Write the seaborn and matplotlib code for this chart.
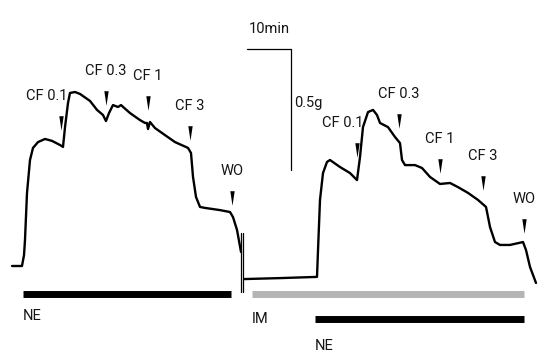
import numpy as np
import pandas as pd
import seaborn as sns
import matplotlib
matplotlib.use("Agg")
import matplotlib.pyplot as plt
from matplotlib.path import Path

# ---- isometric tension recordings (time in min, tension in g) ----
trace1_time = [0, 2.27, 2.73, 2.95, 3.41, 4.09, 4.77, 5.91, 7.5, 9.09, 10.91, 11.59,
               12.05, 12.73, 13.18, 14.32, 15.45, 17.73, 19.32, 20.68, 21.36, 22.05,
               22.95, 24.09, 24.77, 26.82, 29.09, 30.23, 30.68, 30.91, 31.36, 32.5,
               34.77, 37.05, 40.0, 40.68, 41.14, 41.82, 42.73, 43.86, 47.27, 49.55,
               50.23, 51.14, 52.05]
trace1_tension = [0, 0, 0.045, 0.107, 0.302, 0.438, 0.488, 0.512, 0.525, 0.517, 0.5, 0.492,
                  0.574, 0.674, 0.715, 0.719, 0.711, 0.682, 0.645, 0.624, 0.599, 0.632,
                  0.665, 0.657, 0.665, 0.632, 0.603, 0.591, 0.591, 0.566, 0.595, 0.57,
                  0.541, 0.512, 0.488, 0.467, 0.368, 0.285, 0.244, 0.24, 0.231, 0.223,
                  0.202, 0.149, 0.058]

trace2_time = [52.73, 60.91, 69.32, 69.55, 70.0, 70.68, 71.59, 72.27, 74.55, 76.82, 78.41,
               79.09, 79.77, 80.91, 82.05, 82.95, 83.64, 85.45, 87.05, 88.18, 88.64,
               89.32, 91.59, 93.18, 95.0, 97.27, 99.55, 101.36, 103.64, 105.91, 107.73,
               108.64, 109.77, 110.91, 113.18, 116.14, 116.82, 117.73, 119.09]
trace2_tension = [-0.054, -0.05, -0.045, 0.066, 0.273, 0.384, 0.43, 0.438, 0.409, 0.384, 0.355,
                  0.45, 0.574, 0.636, 0.645, 0.624, 0.591, 0.574, 0.533, 0.508, 0.438,
                  0.417, 0.417, 0.405, 0.368, 0.339, 0.343, 0.326, 0.302, 0.273, 0.244,
                  0.161, 0.099, 0.087, 0.087, 0.099, 0.066, -0.004, -0.07]

# ---- drug additions (arrow time, tension at arrow base) ----
marker_labels = ["CF 0.1", "CF 0.3", "CF 1", "CF 3", "WO"]
marker1_time = [11.14, 21.36, 30.91, 40.45, 50.0]
marker1_tension = [0.562, 0.665, 0.645, 0.521, 0.252]
marker2_time = [78.41, 88.0, 97.27, 107.05, 116.36]
marker2_tension = [0.452, 0.572, 0.384, 0.314, 0.136]

# ---- treatment bars (start, end) ----
bar_names = ["NE", "IM", "NE"]
bar_start = [2.5, 54.55, 68.86]
bar_end = [49.77, 116.36, 116.36]
bar_level = [-0.114, -0.114, -0.219]
bar_colors = ["black", "#b4b4b4", "black"]

# ---- calibration ----
scale_minutes = 10
scale_grams = 0.5
scale_origin = (53.41, 0.897)

# ---- break in the recording ----
break_time = [51.98, 52.57]
break_low, break_high = -0.107, 0.136

px_per_min = 4.4
px_per_g = 242.0

sns.set_theme(style="white")
plt.rcParams["font.family"] = ["Roboto", "DejaVu Sans"]

fig = plt.figure(figsize=(5.41, 3.53), dpi=100)
ax = fig.add_axes([0, 0, 1, 1])
ax.set_xlim(-12 / px_per_min, (541 - 12) / px_per_min)
ax.set_ylim((266 - 353) / px_per_g, 266 / px_per_g)
ax.axis("off")

df1 = pd.DataFrame({"time": trace1_time, "tension": trace1_tension})
df2 = pd.DataFrame({"time": trace2_time, "tension": trace2_tension})
for df in (df1, df2):
    sns.lineplot(data=df, x="time", y="tension", ax=ax, color="black",
                 linewidth=1.7, estimator=None, sort=False)

# break marks
for bt in break_time:
    ax.plot([bt, bt], [break_low, break_high], color="black", linewidth=0.9)

# narrow downward arrowheads
arrow = Path([(-0.3, 1.0), (0.3, 1.0), (0.0, -1.0), (-0.3, 1.0)],
             [Path.MOVETO, Path.LINETO, Path.LINETO, Path.CLOSEPOLY])
font_kw = dict(fontsize=10.5, color="#151515")
for times, tensions in ((marker1_time, marker1_tension), (marker2_time, marker2_tension)):
    ax.scatter(times, np.array(tensions) + 7 / px_per_g, marker=arrow, s=110,
               color="black", linewidths=0, zorder=3)
    for i, (t, g) in enumerate(zip(times, tensions)):
        if marker_labels[i] == "CF 0.1":
            dx, ha = 6, "right"
        else:
            dx, ha = 0, "center"
        ax.annotate(marker_labels[i], xy=(t, g + 14 / px_per_g), xytext=(dx, 20),
                    textcoords="offset pixels", ha=ha, va="center", **font_kw)

# treatment bars
label_drop = [-22, -25, -27]
for name, s, e, lvl, c, d in zip(bar_names, bar_start, bar_end, bar_level,
                                 bar_colors, label_drop):
    ax.plot([s, e], [lvl, lvl], color=c, linewidth=5, solid_capstyle="butt")
    ax.annotate(name, xy=(s, lvl), xytext=(0, d), textcoords="offset pixels",
                ha="left", va="center", **font_kw)

# calibration bars
x0, y0 = scale_origin
ax.plot([x0, x0 + scale_minutes, x0 + scale_minutes],
        [y0, y0, y0 - scale_grams], color="black", linewidth=0.9)
ax.annotate(f"{scale_minutes}min", xy=(x0 + scale_minutes / 2, y0), xytext=(0, 20),
            textcoords="offset pixels", ha="center", va="center", **font_kw)
ax.annotate(f"{scale_grams}g", xy=(x0 + scale_minutes, y0 - 0.225), xytext=(3, 0),
            textcoords="offset pixels", ha="left", va="center", **font_kw)

fig.savefig("out.png", dpi=100)
